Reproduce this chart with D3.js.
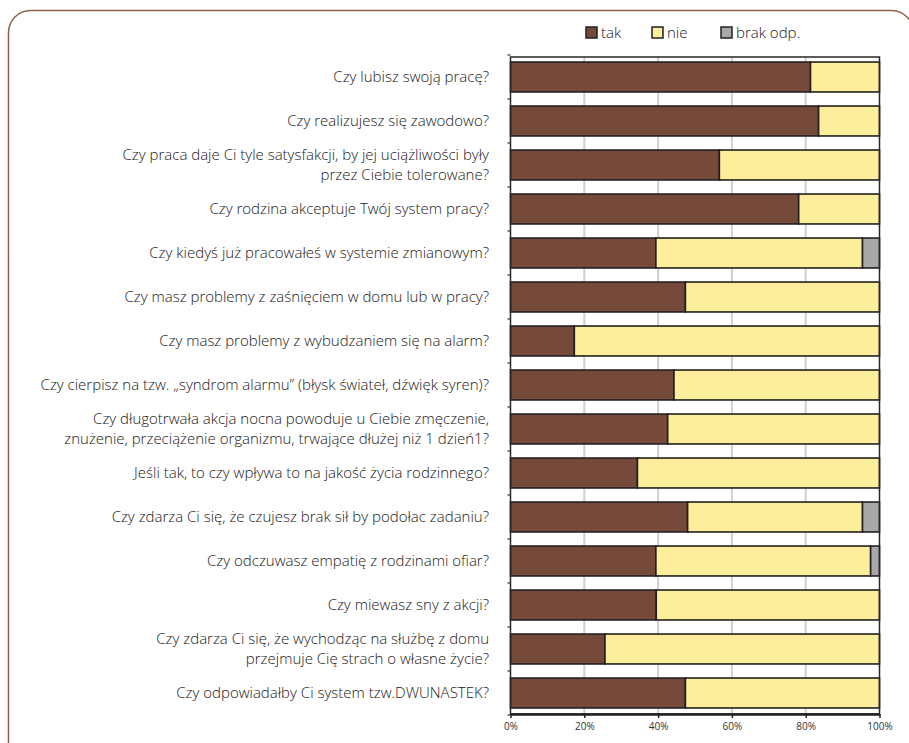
<!DOCTYPE html>
<html>
<head>
<meta charset="utf-8">
<script src="https://cdn.jsdelivr.net/npm/d3@7"></script>
<style>
  body { margin: 0; background: #fff; }
  svg { display: block; font-family: "Open Sans", sans-serif; }
</style>
</head>
<body>
<svg id="chart" width="909" height="743"></svg>
<script>
// questions (top to bottom), "\n" = line break in label
const questions = [
    "Czy lubisz swoją pracę?",
    "Czy realizujesz się zawodowo?",
    "Czy praca daje Ci tyle satysfakcji, by jej uciążliwości były\nprzez Ciebie tolerowane?",
    "Czy rodzina akceptuje Twój system pracy?",
    "Czy kiedyś już pracowałeś w systemie zmianowym?",
    "Czy masz problemy z zaśnięciem w domu lub w pracy?",
    "Czy masz problemy z wybudzaniem się na alarm?",
    "Czy cierpisz na tzw. „syndrom alarmu” (błysk świateł, dźwięk syren)?",
    "Czy długotrwała akcja nocna powoduje u Ciebie zmęczenie,\nznużenie, przeciążenie organizmu, trwające dłużej niż 1 dzień1?",
    "Jeśli tak, to czy wpływa to na jakość życia rodzinnego?",
    "Czy zdarza Ci się, że czujesz brak sił by podołac zadaniu?",
    "Czy odczuwasz empatię z rodzinami ofiar?",
    "Czy miewasz sny z akcji?",
    "Czy zdarza Ci się, że wychodząc na służbę z domu\nprzejmuje Cię strach o własne życie?",
    "Czy odpowiadałby Ci system tzw.DWUNASTEK?"
];
const tak  = [81.3, 83.5, 56.6, 78.1, 39.4, 47.4, 17.3, 44.3, 42.6, 34.4, 48.0, 39.4, 39.5, 25.6, 47.4];
const nie  = [18.7, 16.5, 43.4, 21.9, 56.0, 52.6, 82.7, 55.7, 57.4, 65.6, 47.4, 58.2, 60.5, 74.4, 52.6];
const brak = [0, 0, 0, 0, 4.6, 0, 0, 0, 0, 0, 4.6, 2.4, 0, 0, 0];
const seriesNames = ["tak", "nie", "brak odp."];
const seriesColors = ["#754a3a", "#fcee9b", "#a8a8a8"];
const ticks = [0, 20, 40, 60, 80, 100];

const svg = d3.select("#chart");

// frame
svg.append("rect")
    .attr("x", 8.5).attr("y", 10.5)
    .attr("width", 905).attr("height", 760)
    .attr("rx", 22)
    .attr("fill", "none")
    .attr("stroke", "#8d604e")
    .attr("stroke-width", 1.5);

const x = d3.scaleLinear().domain([0, 100]).range([510.5, 879.5]);
const y = d3.scaleBand().domain(questions).range([55, 715])
    .paddingInner(0.32).paddingOuter(0.16);
const plotTop = 57, plotBottom = 714;

// grid
svg.append("g").selectAll("line")
    .data(ticks.slice(1, -1))
    .join("line")
    .attr("x1", d => x(d)).attr("x2", d => x(d))
    .attr("y1", plotTop).attr("y2", plotBottom)
    .attr("stroke", "#cfcfcf").attr("stroke-width", 2);

// stacked data
const rows = questions.map((q, i) => ({ q, vals: [tak[i], nie[i], brak[i]] }));
const stack = d3.stack().keys([0, 1, 2]).value((d, k) => d.vals[k]);
const layers = stack(rows);

svg.append("g").selectAll("g")
    .data(layers)
    .join("g")
    .attr("fill", (d, i) => seriesColors[i])
    .selectAll("rect")
    .data(d => d.filter(s => s[1] - s[0] > 0))
    .join("rect")
    .attr("x", d => x(d[0]))
    .attr("width", d => x(d[1]) - x(d[0]))
    .attr("y", d => y(d.data.q))
    .attr("height", y.bandwidth())
    .attr("stroke", "#231f20")
    .attr("stroke-width", 1.6);

// plot border
svg.append("rect")
    .attr("x", x(0)).attr("y", plotTop)
    .attr("width", x(100) - x(0)).attr("height", plotBottom - plotTop)
    .attr("fill", "none")
    .attr("stroke", "#2b2727").attr("stroke-width", 1.5);

// left axis ticks between bands
const step = y.step();
const bounds = d3.range(questions.length + 1).map(i => y.range()[0] + i * step);
svg.append("g").selectAll("line")
    .data(bounds)
    .join("line")
    .attr("x1", x(0) - 3).attr("x2", x(0))
    .attr("y1", d => d).attr("y2", d => d)
    .attr("stroke", "#333").attr("stroke-width", 1.2);

// bottom axis
const xAxis = svg.append("g")
    .attr("transform", `translate(0,${plotBottom})`)
    .call(d3.axisBottom(x).tickValues(ticks).tickFormat(d => d + "%").tickSize(4).tickSizeOuter(0));
xAxis.select(".domain").attr("stroke", "#231f20").attr("stroke-width", 2.5);
xAxis.selectAll(".tick line").attr("stroke", "#231f20").attr("stroke-width", 1.5);
xAxis.selectAll("text")
    .attr("y", 9)
    .attr("fill", "#333")
    .style("font-family", "'Open Sans', sans-serif")
    .style("font-size", "10px");

// category labels
const labels = svg.append("g").selectAll("text")
    .data(questions)
    .join("text")
    .attr("x", 489)
    .attr("y", d => y(d) + y.bandwidth() / 2)
    .attr("text-anchor", "end")
    .attr("fill", "#1a1718")
    .style("font-size", "15px")
    .style("font-weight", 300);
labels.each(function (d) {
    const lines = d.split("\n");
    const t = d3.select(this);
    lines.forEach((ln, i) => {
        t.append("tspan")
            .attr("x", 489)
            .attr("dy", i === 0 ? (-(lines.length - 1) * 10 + 5) : 20)
            .text(ln);
    });
});

// legend
const legendX = [586, 652, 721];
const legend = svg.append("g").selectAll("g")
    .data(seriesNames)
    .join("g")
    .attr("transform", (d, i) => `translate(${legendX[i]},27)`);
legend.append("rect")
    .attr("width", 11).attr("height", 11)
    .attr("fill", (d, i) => seriesColors[i])
    .attr("stroke", "#231f20").attr("stroke-width", 1.5);
legend.append("text")
    .attr("x", 15).attr("y", 11)
    .attr("fill", "#1a1718")
    .style("font-size", "15px")
    .style("font-weight", 300)
    .text(d => d);
</script>
</body>
</html>
